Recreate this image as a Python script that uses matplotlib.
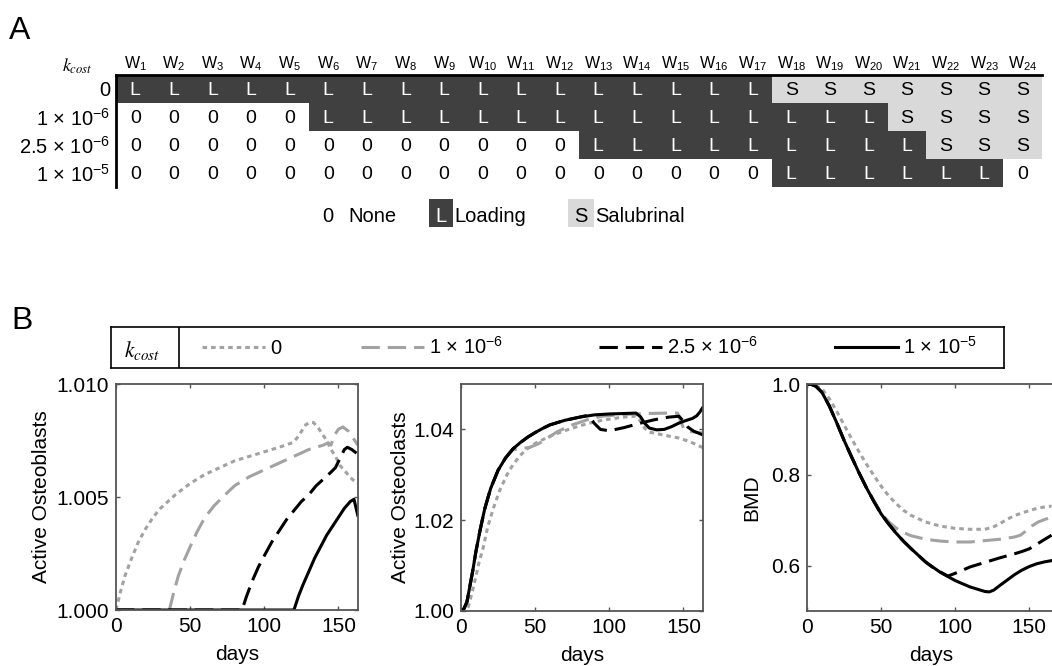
import numpy as np
import matplotlib
matplotlib.use('Agg')
import matplotlib.pyplot as plt
import matplotlib.transforms as mtransforms
from matplotlib.colors import ListedColormap
from matplotlib.patches import Rectangle

plt.rcParams['font.family'] = ['Liberation Sans', 'DejaVu Sans']
plt.rcParams['mathtext.fontset'] = 'custom'
plt.rcParams['mathtext.rm'] = 'Liberation Sans'
plt.rcParams['mathtext.it'] = 'Liberation Sans:italic'
plt.rcParams['mathtext.bf'] = 'Liberation Sans:bold'

# ---- A: weekly treatment schedule per k_cost ----
week_nums = list(range(1, 25))
row_labels = ['0', '1 × 10$^{-6}$', '2.5 × 10$^{-6}$', '1 × 10$^{-5}$']
schedule = [
    'LLLLLLLLLLLLLLLLLSSSSSSS',
    '00000LLLLLLLLLLLLLLLSSSS',
    '000000000000LLLLLLLLLSSS',
    '00000000000000000LLLLLL0',
]
key_codes = ['0', 'L', 'S']
key_names = ['None', 'Loading', 'Salubrinal']

# ---- B: simulated responses (days, value) ----
legend_labels = ['0', '1 × 10$^{-6}$', '2.5 × 10$^{-6}$', '1 × 10$^{-5}$']

ob_t0 = [0, 3, 6, 10, 15, 20, 25, 30, 40, 50, 60, 70, 80, 90, 100, 110, 119, 122, 125, 128, 131,
         133, 136, 139, 142, 145, 148, 151, 155, 159, 163]
ob_v0 = [1.0000, 1.0008, 1.0015, 1.0022, 1.0030, 1.0036, 1.0041, 1.0045, 1.0051, 1.0056, 1.0060,
         1.0063, 1.0066, 1.0068, 1.0070, 1.0072, 1.0074, 1.0076, 1.0079, 1.0082, 1.0083, 1.0083,
         1.0081, 1.0078, 1.0075, 1.0071, 1.0068, 1.0064, 1.0061, 1.0058, 1.0056]
ob_t1 = [0, 36, 39, 42, 46, 50, 55, 60, 66, 72, 80, 90, 100, 110, 120, 130, 140, 143, 145, 147,
         150, 153, 157, 160, 163]
ob_v1 = [1.0000, 1.0000, 1.0008, 1.0015, 1.0022, 1.0028, 1.0035, 1.0041, 1.0046, 1.0050, 1.0055,
         1.0059, 1.0062, 1.0065, 1.0068, 1.0071, 1.0073, 1.0074, 1.0073, 1.0077, 1.0080, 1.0081,
         1.0079, 1.0076, 1.0073]
ob_t2 = [0, 85, 88, 92, 96, 100, 105, 110, 115, 120, 125, 130, 135, 140, 145, 148, 151, 154, 156,
         159, 163]
ob_v2 = [1.0000, 1.0000, 1.0006, 1.0013, 1.0019, 1.0024, 1.0030, 1.0035, 1.0040, 1.0044, 1.0048,
         1.0051, 1.0055, 1.0058, 1.0061, 1.0063, 1.0067, 1.0071, 1.0072, 1.0071, 1.0069]
ob_t3 = [0, 120, 123, 126, 130, 134, 138, 142, 146, 150, 154, 158, 160.5, 163]
ob_v3 = [1.0000, 1.0000, 1.0006, 1.0011, 1.0017, 1.0023, 1.0028, 1.0033, 1.0037, 1.0041, 1.0045,
         1.0048, 1.0049, 1.0042]

oc_t0 = [0, 3, 5, 7, 10, 12, 15, 18, 22, 26, 31, 35, 40, 45, 51, 60, 69, 80, 87, 95, 105, 112,
         118, 121, 124, 127, 136, 147, 155, 161, 163]
oc_v0 = [1.0000, 1.0000, 1.0010, 1.0035, 1.0075, 1.0105, 1.0140, 1.0185, 1.0228, 1.0265, 1.0300,
         1.0322, 1.0343, 1.0358, 1.0371, 1.0385, 1.0396, 1.0408, 1.0414, 1.0420, 1.0425, 1.0428,
         1.0429, 1.0418, 1.0402, 1.0394, 1.0388, 1.0381, 1.0372, 1.0363, 1.0360]
oc_t1 = [0, 2, 4, 6, 8, 10, 13, 16, 20, 25, 30, 35, 40, 46, 52, 58, 65, 75, 85, 95, 110, 125, 140,
         146, 148, 150, 153, 158, 163]
oc_v1 = [1.0000, 1.0005, 1.0020, 1.0055, 1.0090, 1.0130, 1.0180, 1.0225, 1.0270, 1.0310, 1.0337,
         1.0355, 1.0358, 1.0360, 1.0368, 1.0380, 1.0395, 1.0410, 1.0421, 1.0429, 1.0433, 1.0435,
         1.0436, 1.0436, 1.0420, 1.0403, 1.0396, 1.0394, 1.0392]
oc_t2 = [0, 2, 4, 6, 8, 10, 13, 16, 20, 25, 30, 35, 40, 45, 50, 55, 60, 70, 80, 84, 87, 90, 94,
         100, 110, 120, 130, 140, 147, 150, 153, 157, 160, 163]
oc_v2 = [1.0000, 1.0005, 1.0020, 1.0055, 1.0090, 1.0130, 1.0180, 1.0225, 1.0270, 1.0310, 1.0337,
         1.0357, 1.0371, 1.0383, 1.0393, 1.0402, 1.0410, 1.0420, 1.0427, 1.0430, 1.0426, 1.0413,
         1.0400, 1.0397, 1.0404, 1.0413, 1.0421, 1.0427, 1.0429, 1.0418, 1.0405, 1.0396, 1.0392,
         1.0388]
oc_t3 = [0, 2, 4, 6, 8, 10, 13, 16, 20, 25, 30, 35, 40, 45, 50, 55, 60, 70, 80, 90, 100, 110, 118,
         121, 124, 127, 132, 137, 142, 147, 152, 156, 159, 161, 163]
oc_v3 = [1.0000, 1.0005, 1.0020, 1.0055, 1.0090, 1.0130, 1.0180, 1.0225, 1.0270, 1.0310, 1.0337,
         1.0357, 1.0371, 1.0383, 1.0393, 1.0402, 1.0410, 1.0420, 1.0427, 1.0432, 1.0434, 1.0435,
         1.0436, 1.0428, 1.0413, 1.0403, 1.0399, 1.0400, 1.0406, 1.0414, 1.0420, 1.0424, 1.0430,
         1.0438, 1.0448]

bmd_t0 = [0, 3, 6, 10, 15, 20, 25, 30, 35, 40, 45, 50, 55, 60, 65, 70, 80, 90, 100, 110, 120, 125,
          130, 135, 140, 145, 150, 155, 160, 165]
bmd_v0 = [1.000, 0.999, 0.996, 0.990, 0.968, 0.940, 0.910, 0.880, 0.851, 0.824, 0.799, 0.775,
          0.754, 0.737, 0.722, 0.711, 0.696, 0.687, 0.682, 0.680, 0.680, 0.684, 0.692, 0.702,
          0.710, 0.716, 0.721, 0.726, 0.729, 0.731]
bmd_t1 = [0, 3, 6, 10, 15, 20, 25, 30, 35, 40, 45, 50, 55, 60, 65, 70, 80, 90, 100, 110, 120, 130,
          140, 144, 148, 152, 156, 160, 165]
bmd_v1 = [1.000, 0.999, 0.995, 0.982, 0.952, 0.915, 0.876, 0.840, 0.805, 0.773, 0.744, 0.716,
          0.697, 0.683, 0.673, 0.666, 0.658, 0.654, 0.652, 0.652, 0.655, 0.658, 0.663, 0.667,
          0.677, 0.688, 0.696, 0.701, 0.707]
bmd_t2 = [0, 3, 6, 10, 15, 20, 25, 30, 35, 40, 45, 50, 55, 60, 65, 70, 80, 84, 90, 95, 100, 110,
          120, 130, 140, 145, 150, 155, 160, 165]
bmd_v2 = [1.000, 0.999, 0.995, 0.982, 0.952, 0.915, 0.876, 0.840, 0.805, 0.772, 0.742, 0.714,
          0.692, 0.672, 0.654, 0.638, 0.608, 0.598, 0.586, 0.577, 0.583, 0.597, 0.607, 0.617,
          0.626, 0.631, 0.637, 0.647, 0.657, 0.667]
bmd_t3 = [0, 3, 6, 10, 15, 20, 25, 30, 35, 40, 45, 50, 55, 60, 65, 70, 80, 90, 100, 110, 115, 120,
          123, 126, 130, 135, 140, 145, 150, 155, 160, 165]
bmd_v3 = [1.000, 0.999, 0.995, 0.982, 0.952, 0.915, 0.876, 0.840, 0.805, 0.772, 0.742, 0.714,
          0.692, 0.672, 0.654, 0.638, 0.608, 0.585, 0.567, 0.553, 0.548, 0.543, 0.542, 0.546,
          0.556, 0.568, 0.580, 0.590, 0.598, 0.604, 0.608, 0.611]

GRAY = '#a2a2a2'
line_styles = [
    dict(color=GRAY, linestyle=(0, (1.5, 1.3)), lw=2.2),
    dict(color=GRAY, linestyle=(0, (6, 2.6)), lw=2.2),
    dict(color='black', linestyle=(0, (6, 2.6)), lw=2.2),
    dict(color='black', linestyle='-', lw=2.2),
]

W, H = 1052, 666
fig = plt.figure(figsize=(W / 100, H / 100), dpi=100)
# pixel coordinates, y measured from the top
pix = mtransforms.Affine2D().scale(1 / W, -1 / H).translate(0, 1) + fig.transFigure


def add_ax(l, t, r, b):
    return fig.add_axes([l / W, 1 - b / H, (r - l) / W, (b - t) / H])


fig.text(9, 31, 'A', transform=pix, fontsize=23, va='center')
fig.text(11, 321, 'B', transform=pix, fontsize=23, va='center')

# ---------- panel A ----------
cell_colors = ['white', '#404040', '#d9d9d9']
axA = add_ax(116, 75, 1042, 187)
codes = np.array([[key_codes.index(ch) for ch in row] for row in schedule])
axA.pcolormesh(np.arange(len(week_nums) + 1), np.arange(len(schedule) + 1), codes,
               cmap=ListedColormap(cell_colors), vmin=-0.5, vmax=2.5)
for r, row in enumerate(schedule):
    for c, ch in enumerate(row):
        axA.text(c + 0.5, r + 0.55, ch, ha='center', va='center', fontsize=14,
                 color='white' if ch == 'L' else 'black')
axA.set_xlim(0, len(week_nums))
axA.set_ylim(len(schedule), 0)
axA.xaxis.tick_top()
axA.set_xticks(np.arange(len(week_nums)) + 0.5, [f'W$_{{{n}}}$' for n in week_nums], fontsize=11.5)
axA.set_yticks(np.arange(len(schedule)) + 0.5, row_labels, fontsize=14.5)
axA.tick_params(axis='x', length=0, pad=1.5)
axA.tick_params(axis='y', length=0, pad=4)
for s in ['right', 'bottom']:
    axA.spines[s].set_visible(False)
for s in ['top', 'left']:
    axA.spines[s].set_linewidth(2)
axA.text(-1.0, -0.32, r'$k_{cost}$', math_fontfamily='stix', fontsize=13,
         ha='center', va='center')

# key below the table
fig.text(328, 215, key_codes[0], transform=pix, fontsize=14.5, ha='center', va='center_baseline')
fig.text(348, 215, key_names[0], transform=pix, fontsize=14.5, va='center_baseline')
for code, name, x0, w, col, tcol in [(key_codes[1], key_names[1], 429, 24, cell_colors[1], 'white'),
                                     (key_codes[2], key_names[2], 568, 26, cell_colors[2], 'black')]:
    fig.add_artist(Rectangle((x0, 199), w, 28, transform=pix, facecolor=col, edgecolor='none'))
    fig.text(x0 + w / 2, 215, code, transform=pix, fontsize=14.5, ha='center',
             va='center_baseline', color=tcol)
    fig.text(x0 + w + 1, 215, name, transform=pix, fontsize=14.5, va='center_baseline')

# ---------- panel B legend box ----------
axL = add_ax(111, 327, 1004, 368)
axL.set_xlim(111, 1004)
axL.set_ylim(368, 327)
axL.set_xticks([])
axL.set_yticks([])
for s in axL.spines.values():
    s.set_linewidth(1.2)
axL.axvline(179, color='black', lw=1.2)
axL.text(142, 350, r'$k_{cost}$', math_fontfamily='stix', fontsize=15.5, ha='center', va='center')
for st, lab, x0 in zip(line_styles, legend_labels, [202, 361, 599, 835]):
    axL.plot([x0, x0 + 63], [347, 347], **st)
    axL.text(x0 + 68, 354, lab, fontsize=14.5, va='baseline')

# ---------- panel B time courses ----------
SPINE = '#555555'


def style_ax(ax, xmax, ylim, yticks, fmt, ylabel, label_x):
    ax.set_xlim(0, xmax)
    ax.set_ylim(*ylim)
    ax.set_xticks([0, 50, 100, 150])
    ax.set_yticks(yticks, [fmt.format(v) for v in yticks])
    ax.tick_params(direction='in', top=True, right=True, length=3, width=1,
                   color=SPINE, labelsize=15, pad=5)
    for s in ax.spines.values():
        s.set_color(SPINE)
        s.set_linewidth(1.3)
    ax.set_xlabel('days', fontsize=15)
    ax.xaxis.set_label_coords(0.5, -0.155)
    ax.set_ylabel(ylabel, fontsize=15)
    ax.yaxis.set_label_coords(label_x, 0.5)


panels = [
    (add_ax(116, 384, 358, 610), [(ob_t0, ob_v0), (ob_t1, ob_v1), (ob_t2, ob_v2), (ob_t3, ob_v3)],
     163.2, (1.0, 1.010), [1.000, 1.005, 1.010], '{:.3f}', 'Active Osteoblasts', -0.268),
    (add_ax(461, 384, 703, 611), [(oc_t0, oc_v0), (oc_t1, oc_v1), (oc_t2, oc_v2), (oc_t3, oc_v3)],
     163.2, (1.0, 1.05), [1.00, 1.02, 1.04], '{:.2f}', 'Active Osteoclasts', -0.212),
    (add_ax(807, 384, 1056, 611), [(bmd_t0, bmd_v0), (bmd_t1, bmd_v1), (bmd_t2, bmd_v2),
                                   (bmd_t3, bmd_v3)],
     168.0, (0.5, 1.0), [0.6, 0.8, 1.0], '{:.1f}', 'BMD', -0.185),
]
for ax, series, xmax, ylim, yticks, fmt, ylabel, lx in panels:
    for (t, v), st in zip(series, line_styles):
        ax.plot(t, v, **st)
    style_ax(ax, xmax, ylim, yticks, fmt, ylabel, lx)

fig.savefig('out.png', dpi=100)
